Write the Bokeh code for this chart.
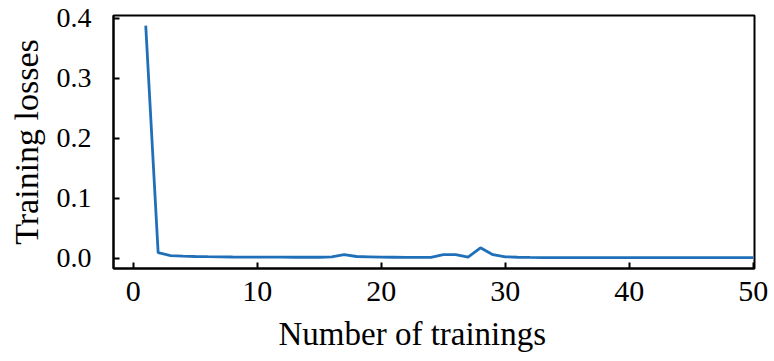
from bokeh.plotting import figure
from bokeh.models import FixedTicker, PrintfTickFormatter, Range1d, Title
from bokeh.embed import file_html
from bokeh.resources import INLINE

epochs = list(range(1, 51))
losses = [0.388, 0.0095, 0.0045, 0.0035, 0.003, 0.0027, 0.0025, 0.0022, 0.002, 0.002,
          0.002, 0.0019, 0.0018, 0.0018, 0.0018, 0.0025, 0.006, 0.003, 0.0025, 0.002,
          0.0018, 0.0016, 0.0015, 0.0015, 0.006, 0.006, 0.002, 0.0175, 0.006, 0.0025,
          0.0018, 0.0015, 0.0013, 0.0012, 0.0012, 0.0012, 0.0012, 0.0011, 0.0011, 0.0011,
          0.001, 0.001, 0.001, 0.001, 0.001, 0.001, 0.001, 0.001, 0.001, 0.001]
x_ticks = [0, 10, 20, 30, 40, 50]
y_ticks = [0.0, 0.1, 0.2, 0.3, 0.4]
x_title = "Number of trainings"
y_title = "Training losses"

p = figure(width=774, height=361, output_backend="svg", toolbar_location=None,
           x_range=Range1d(-1.6, 50.1), y_range=Range1d(-0.017, 0.405),
           min_border_left=113, min_border_right=20, min_border_top=15, min_border_bottom=0)

p.line(epochs, losses, line_color="#1f70b8", line_width=2.8)

FONT = "Times New Roman"
p.xgrid.visible = False
p.ygrid.visible = False
p.outline_line_color = "black"
p.outline_line_width = 2
p.outline_line_alpha = 1

for ax in (p.xaxis[0], p.yaxis[0]):
    ax.axis_line_color = "black"
    ax.axis_line_width = 2
    ax.major_tick_in = 6
    ax.major_tick_out = 0
    ax.major_tick_line_width = 2
    ax.minor_tick_line_color = None
    ax.major_label_text_font = FONT
    ax.major_label_text_color = "black"
    ax.axis_label_text_font = FONT
    ax.axis_label_text_font_style = "normal"
    ax.axis_label_text_color = "black"

p.xaxis.major_label_text_font_size = "30px"
p.yaxis.major_label_text_font_size = "28px"
p.yaxis.axis_label_text_font_size = "34px"
p.xaxis.ticker = FixedTicker(ticks=x_ticks)
p.yaxis.ticker = FixedTicker(ticks=y_ticks)
p.yaxis.formatter = PrintfTickFormatter(format="%.1f")
p.yaxis.axis_label = y_title
p.xaxis.major_label_standoff = 13
p.yaxis.major_label_standoff = 22
p.yaxis.axis_label_standoff = 9

# x-axis title below the axis, a little left of the frame centre as in the reference
p.add_layout(Title(text=x_title, align="left", offset=165, text_font=FONT,
                   text_font_size="33px", text_font_style="normal", text_color="black",
                   standoff=20), "below")

open("out.html", "w").write(file_html(p, INLINE))
